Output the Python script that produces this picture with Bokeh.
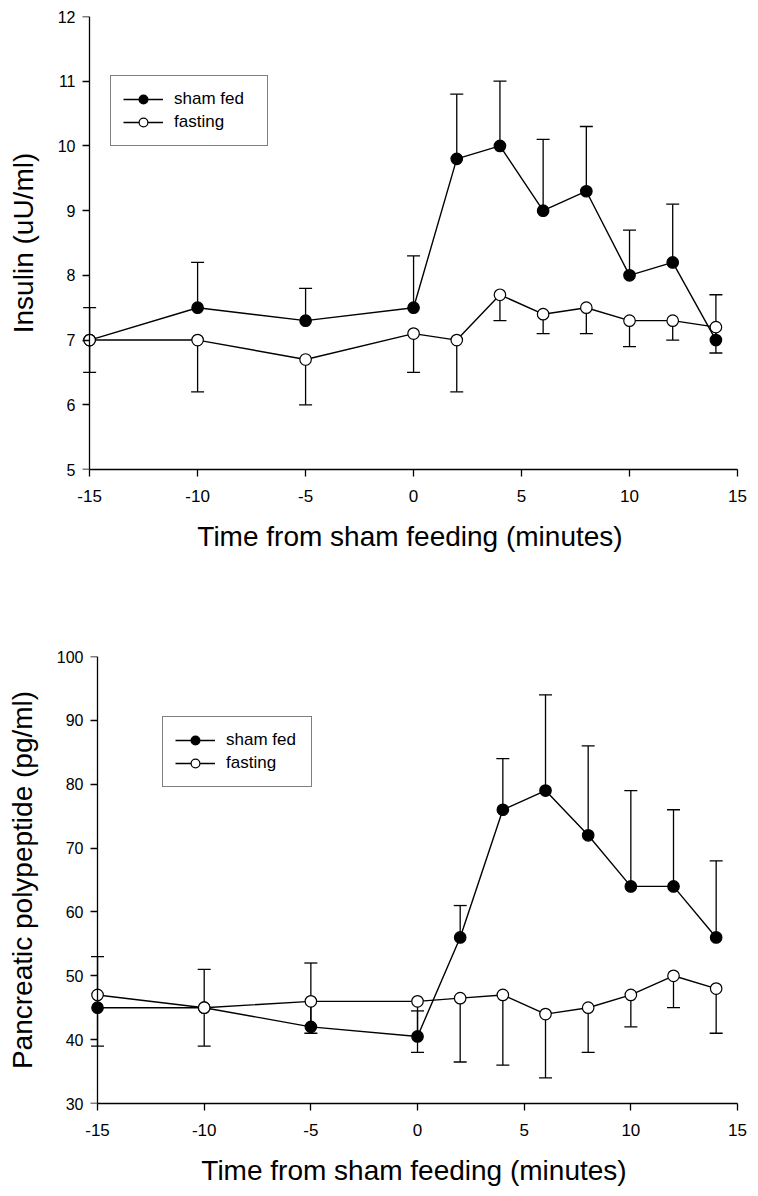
from bokeh.plotting import figure
from bokeh.models import (ColumnDataSource, Whisker, TeeHead, FixedTicker, Range1d, Legend,
                          LinearAxis)
from bokeh.layouts import column
from bokeh.embed import file_html
from bokeh.resources import INLINE

# ---- data ----
time = [-15, -10, -5, 0, 2, 4, 6, 8, 10, 12, 14]

insulin_sham = [7.0, 7.5, 7.3, 7.5, 9.8, 10.0, 9.0, 9.3, 8.0, 8.2, 7.0]
insulin_sham_err = [0.5, 0.7, 0.5, 0.8, 1.0, 1.0, 1.1, 1.0, 0.7, 0.9, 0.7]
insulin_fast = [7.0, 7.0, 6.7, 7.1, 7.0, 7.7, 7.4, 7.5, 7.3, 7.3, 7.2]
insulin_fast_err = [0.5, 0.8, 0.7, 0.6, 0.8, 0.4, 0.3, 0.4, 0.4, 0.3, 0.4]

pp_sham = [45, 45, 42, 40.5, 56, 76, 79, 72, 64, 64, 56]
pp_sham_err = [8, 6, 10, 4, 5, 8, 15, 14, 15, 12, 12]
pp_fast = [47, 45, 46, 46, 46.5, 47, 44, 45, 47, 50, 48]
pp_fast_err = [8, 6, 5, 8, 10, 11, 10, 7, 5, 5, 7]

x_ticks = [-15, -10, -5, 0, 5, 10, 15]
insulin_ticks = [5, 6, 7, 8, 9, 10, 11, 12]
pp_ticks = [30, 40, 50, 60, 70, 80, 90, 100]

x_title = "Time from sham feeding (minutes)"
FONT = "Liberation Sans"


def make_panel(height, y_min, y_max, y_ticks, y_title, sham, sham_err, fast, fast_err,
               mb_left, mb_top, mb_bottom, legend_loc, label_w):
    p = figure(width=758, height=height, output_backend="svg", toolbar_location=None,
               x_range=Range1d(-15.33, 15), y_range=Range1d(y_min, y_max),
               min_border_left=mb_left, min_border_right=21,
               min_border_top=mb_top, min_border_bottom=mb_bottom)
    p.frame_align = False
    p.outline_line_color = None
    p.xgrid.visible = False
    p.ygrid.visible = False
    p.background_fill_color = "white"

    # error bars: sham fed upward, fasting downward
    s_src = ColumnDataSource(dict(x=time, y=sham,
                                  up=[v + e for v, e in zip(sham, sham_err)]))
    f_src = ColumnDataSource(dict(x=time, y=fast,
                                  lo=[v - e for v, e in zip(fast, fast_err)]))
    w1 = Whisker(source=s_src, base="x", lower="y", upper="up", dimension="height",
                 line_color="black", line_width=1.3,
                 upper_head=TeeHead(size=13, line_width=1.3, line_color="black"),
                 lower_head=None)
    w2 = Whisker(source=f_src, base="x", lower="lo", upper="y", dimension="height",
                 line_color="black", line_width=1.3,
                 lower_head=TeeHead(size=13, line_width=1.3, line_color="black"),
                 upper_head=None)
    p.add_layout(w1)
    p.add_layout(w2)

    l1 = p.line("x", "y", source=s_src, line_color="black", line_width=1.4)
    m1 = p.scatter("x", "y", source=s_src, size=11.5, marker="circle",
                   fill_color="black", line_color="black", line_width=1.2)
    l2 = p.line("x", "y", source=f_src, line_color="black", line_width=1.4)
    m2 = p.scatter("x", "y", source=f_src, size=11.5, marker="circle",
                   fill_color="white", line_color="black", line_width=1.2)

    legend = Legend(items=[("sham fed", [l1, m1]), ("fasting", [l2, m2])],
                    location=legend_loc)
    legend.border_line_color = "black"
    legend.border_line_width = 1
    legend.background_fill_color = "white"
    legend.background_fill_alpha = 1
    legend.label_text_font = FONT
    legend.label_text_font_size = "17px"
    legend.label_text_color = "black"
    legend.glyph_width = 40
    legend.glyph_height = 22
    legend.label_height = 22
    legend.label_width = label_w
    legend.label_standoff = 11
    legend.padding = 12
    legend.spacing = 1
    legend.margin = 0
    p.add_layout(legend)

    # x axis
    xa = p.xaxis[0]
    xa.ticker = FixedTicker(ticks=x_ticks)
    xa.major_label_overrides = {t: str(t) for t in x_ticks}
    xa.bounds = (-15, 15)
    xa.axis_label = x_title
    xa.axis_line_color = "black"
    xa.axis_line_width = 1.3
    xa.major_tick_line_color = "black"
    xa.major_tick_line_width = 1.3
    xa.major_tick_in = 0
    xa.major_tick_out = 7
    xa.minor_tick_line_color = None
    xa.major_label_text_font = FONT
    xa.major_label_text_color = "black"
    xa.major_label_text_font_size = "17px"
    xa.major_label_standoff = 13
    xa.axis_label_text_font = FONT
    xa.axis_label_text_font_style = "normal"
    xa.axis_label_text_font_size = "28px"
    xa.axis_label_text_color = "black"
    xa.axis_label_standoff = 16

    # y axis: labels and title (line and ticks drawn by the fixed axis at x = -15)
    ya = p.yaxis[0]
    ya.ticker = FixedTicker(ticks=y_ticks)
    ya.axis_label = y_title
    ya.axis_line_color = None
    ya.major_tick_line_color = None
    ya.minor_tick_line_color = None
    ya.major_tick_in = 0
    ya.major_tick_out = 0
    ya.major_label_standoff = 7
    ya.major_label_text_font = FONT
    ya.major_label_text_color = "black"
    ya.major_label_text_font_size = "16px"
    ya.axis_label_text_font = FONT
    ya.axis_label_text_font_style = "normal"
    ya.axis_label_text_font_size = "28px"
    ya.axis_label_text_color = "black"
    ya.axis_label_standoff = 16

    yline = LinearAxis(ticker=FixedTicker(ticks=y_ticks), fixed_location=-15,
                       major_label_overrides={t: "" for t in y_ticks})
    yline.axis_line_color = "black"
    yline.axis_line_width = 1.3
    yline.major_tick_line_color = "black"
    yline.major_tick_line_width = 1.3
    yline.major_tick_in = 8
    yline.major_tick_out = 0
    yline.major_label_standoff = 0
    yline.minor_tick_line_color = None
    yline.major_label_text_font_size = "1px"
    p.add_layout(yline, "right")
    return p


top = make_panel(608, 5, 12, insulin_ticks, "Insulin (uU/ml)",
                 insulin_sham, insulin_sham_err, insulin_fast, insulin_fast_err,
                 mb_left=82, mb_top=16, mb_bottom=139, legend_loc=(28, 323), label_w=81)
bottom = make_panel(580, 30, 100, pp_ticks, "Pancreatic polypeptide (pg/ml)",
                    pp_sham, pp_sham_err, pp_fast, pp_fast_err,
                    mb_left=90, mb_top=48, mb_bottom=85, legend_loc=(72, 316), label_w=73)

layout = column(top, bottom, spacing=0)
open("out.html", "w").write(file_html(layout, INLINE))
